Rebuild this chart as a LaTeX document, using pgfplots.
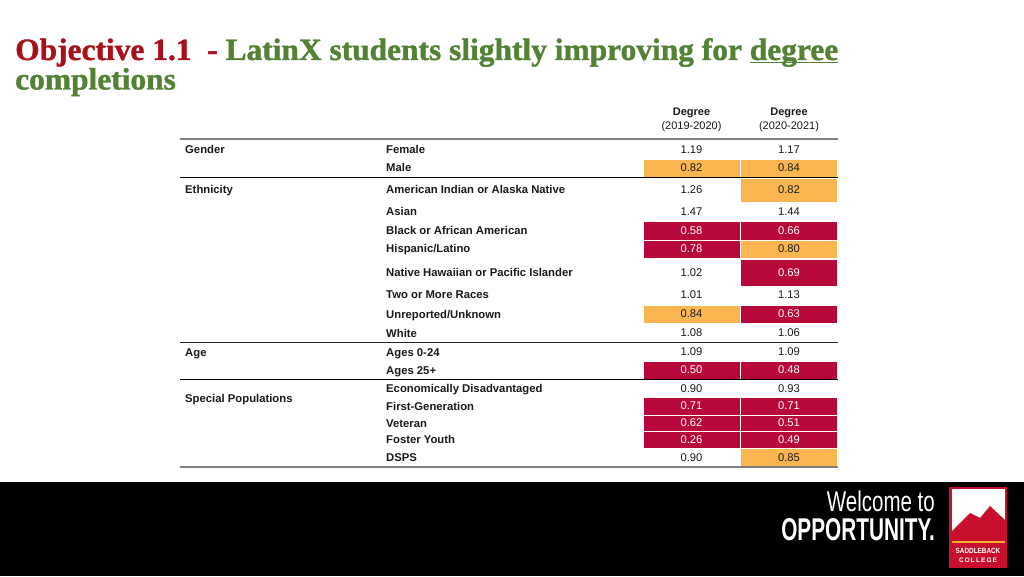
\documentclass[border=0pt]{standalone}
\usepackage{pgfplots}
\pgfplotsset{compat=1.18}
\usepackage{pgfplotstable}
\usepackage{fontspec}
\setmainfont{Liberation Sans}
\newfontface\titlebf{Liberation Serif Bold}[FakeBold=1.2]
\definecolor{crim}{HTML}{B8083A}
\definecolor{orng}{HTML}{FBB652}
\definecolor{tred}{HTML}{A8101A}
\definecolor{tgreen}{HTML}{548235}
\definecolor{logored}{HTML}{C8102E}
\definecolor{logoyel}{HTML}{F4B233}
\definecolor{txt}{HTML}{1A1A1A}
\newcommand\ul[1]{\setbox0\hbox{#1}\rlap{\rule[-3.5pt]{\wd0}{1.4pt}}#1}

% x = column centre, y = row centre (576 - pixel row), h = cell height, v = value
\pgfplotstableread{
x y h v
691.5 426.5 19 1.19
789 426.5 19 1.17
691.5 386 24 1.26
691.5 364 19 1.47
789 364 19 1.44
691.5 303.5 27 1.02
691.5 281 18 1.01
789 281 18 1.13
691.5 243 19 1.08
789 243 19 1.06
691.5 224 18 1.09
789 224 18 1.09
691.5 187.5 17 0.90
789 187.5 17 0.93
691.5 118.5 18 0.90
}\whitecells
\pgfplotstableread{
x y h v
691.5 408 18 0.82
789 408 18 0.84
789 386 24 0.82
789 327 18 0.80
691.5 262 18 0.84
789 118.5 18 0.85
}\orangecells
\pgfplotstableread{
x y h v
691.5 345.5 19 0.58
789 345.5 19 0.66
691.5 327 18 0.78
789 303.5 27 0.69
789 262 18 0.63
691.5 206 18 0.50
789 206 18 0.48
691.5 170 18 0.71
789 170 18 0.71
691.5 153 16 0.62
789 153 16 0.51
691.5 136.5 17 0.26
789 136.5 17 0.49
}\crimcells

\pgfplotsset{set layers,
  cellstyle/.style={only marks, mark=none, point meta=explicit,
  visualization depends on={\thisrow{h} \as \cellh},
  nodes near coords={\pgfmathprintnumber[fixed,fixed zerofill,precision=2,assume math mode=true]{\pgfplotspointmeta}},
  every node near coord/.append style={anchor=center, minimum width=97pt,
    minimum height=\cellh pt, inner sep=0pt, draw=white, line width=0.5pt,
    font=\fontsize{11.2}{12}\selectfont}}}

\begin{document}
\begin{tikzpicture}
\begin{axis}[at={(0,0)}, anchor=south west, name=ax,
  x=1pt, y=1pt, xmin=0, xmax=1024, ymin=0, ymax=576,
  axis line style={draw=none}, tick style={draw=none}, major tick length=0pt,
  clip=false,
  xtick={691.5,789},
  xticklabels={{\textbf{Degree}\\(2019-2020)},{\textbf{Degree}\\(2020-2021)}},
  xticklabel style={align=center, anchor=center, yshift=456pt, inner sep=0pt,
    text=txt, font=\fontsize{11}{14}\selectfont},
  ytick={426.5,408,386,364,345.5,327,303.5,281,262,243,224,206,187.5,170,153,136.5,118.5},
  yticklabels={Female,Male,American Indian or Alaska Native,Asian,Black or African American,Hispanic/Latino,Native Hawaiian or Pacific Islander,Two or More Races,Unreported/Unknown,White,Ages 0-24,Ages 25+,Economically Disadvantaged,First-Generation,Veteran,Foster Youth,DSPS},
  yticklabel style={anchor=base west, xshift=386pt, yshift=-4pt, inner sep=0pt, text=txt,
    font=\bfseries\fontsize{11.3}{12}\selectfont},
  extra y ticks={426.5,386,224,178},
  extra y tick labels={Gender,Ethnicity,Age,Special Populations},
  extra y tick style={yticklabel style={xshift=-201pt}},
]
\begin{pgfonlayer}{axis background}
\fill[white] (axis cs:0,0) rectangle (axis cs:1024,576);
\end{pgfonlayer}

\addplot[cellstyle, every node near coord/.append style={fill=white, text=txt}]
  table[x=x, y=y, meta=v] {\whitecells};
\addplot[cellstyle, every node near coord/.append style={fill=orng, text=txt}]
  table[x=x, y=y, meta=v] {\orangecells};
\addplot[cellstyle, every node near coord/.append style={fill=crim, text=white}]
  table[x=x, y=y, meta=v] {\crimcells};

% table rules (drawn above the cells)
\begin{pgfonlayer}{axis foreground}
\draw[gray, line width=2pt] (axis cs:180,437) -- (axis cs:838,437);
\draw[black, line width=0.8pt] (axis cs:180,399) -- (axis cs:838,399);
\draw[black!85, line width=0.8pt] (axis cs:180,234) -- (axis cs:838,234);
\draw[black, line width=0.8pt] (axis cs:180,197) -- (axis cs:838,197);
\draw[gray, line width=2pt] (axis cs:180,109) -- (axis cs:838,109);
\end{pgfonlayer}

% title
\node[anchor=base west, inner sep=0pt, xscale=1.014, font=\titlebf\fontsize{31}{36}\selectfont]
  at (axis cs:15,516) {\textcolor{tred}{Objective 1.1\ \ -}\ \textcolor{tgreen}{LatinX students slightly improving for \ul{degree}}};
\node[anchor=base west, inner sep=0pt, xscale=1.014, font=\titlebf\fontsize{31}{36}\selectfont]
  at (axis cs:15,486.5) {\textcolor{tgreen}{completions}};

% footer
\fill[black] (axis cs:0,0) rectangle (axis cs:1024,94);
\node[anchor=base east, inner sep=0pt, text=white, xscale=0.72, font=\fontsize{28.5}{30}\selectfont]
  at (axis cs:935,64.5) {Welcome to};
\node[anchor=base east, inner sep=0pt, text=white, xscale=0.66, font=\bfseries\fontsize{31.5}{33}\selectfont]
  at (axis cs:935,36) {OPPORTUNITY.};
\fill[logored] (axis cs:949,8) rectangle (axis cs:1007,89);
\fill[white] (axis cs:952,36) rectangle (axis cs:1005,87.5);
\fill[logored] (axis cs:952,45) -- (axis cs:970,63) -- (axis cs:980,58) -- (axis cs:990,70)
  -- (axis cs:1005,56) -- (axis cs:1005,36) -- (axis cs:952,36) -- cycle;
\fill[logoyel] (axis cs:952,33) rectangle (axis cs:1005,34.8);
\node[text=white, inner sep=0pt, xscale=0.85, font=\bfseries\fontsize{7.5}{8}\selectfont]
  at (axis cs:978,25) {SADDLEBACK};
\node[text=white, inner sep=0pt, font=\bfseries\fontsize{6.5}{8}\selectfont]
  at (axis cs:978,16) {C\,O\,L\,L\,E\,G\,E};
\end{axis}
\pgfresetboundingbox
\useasboundingbox (0,0) rectangle (1024pt,576pt);
\end{tikzpicture}
\end{document}
